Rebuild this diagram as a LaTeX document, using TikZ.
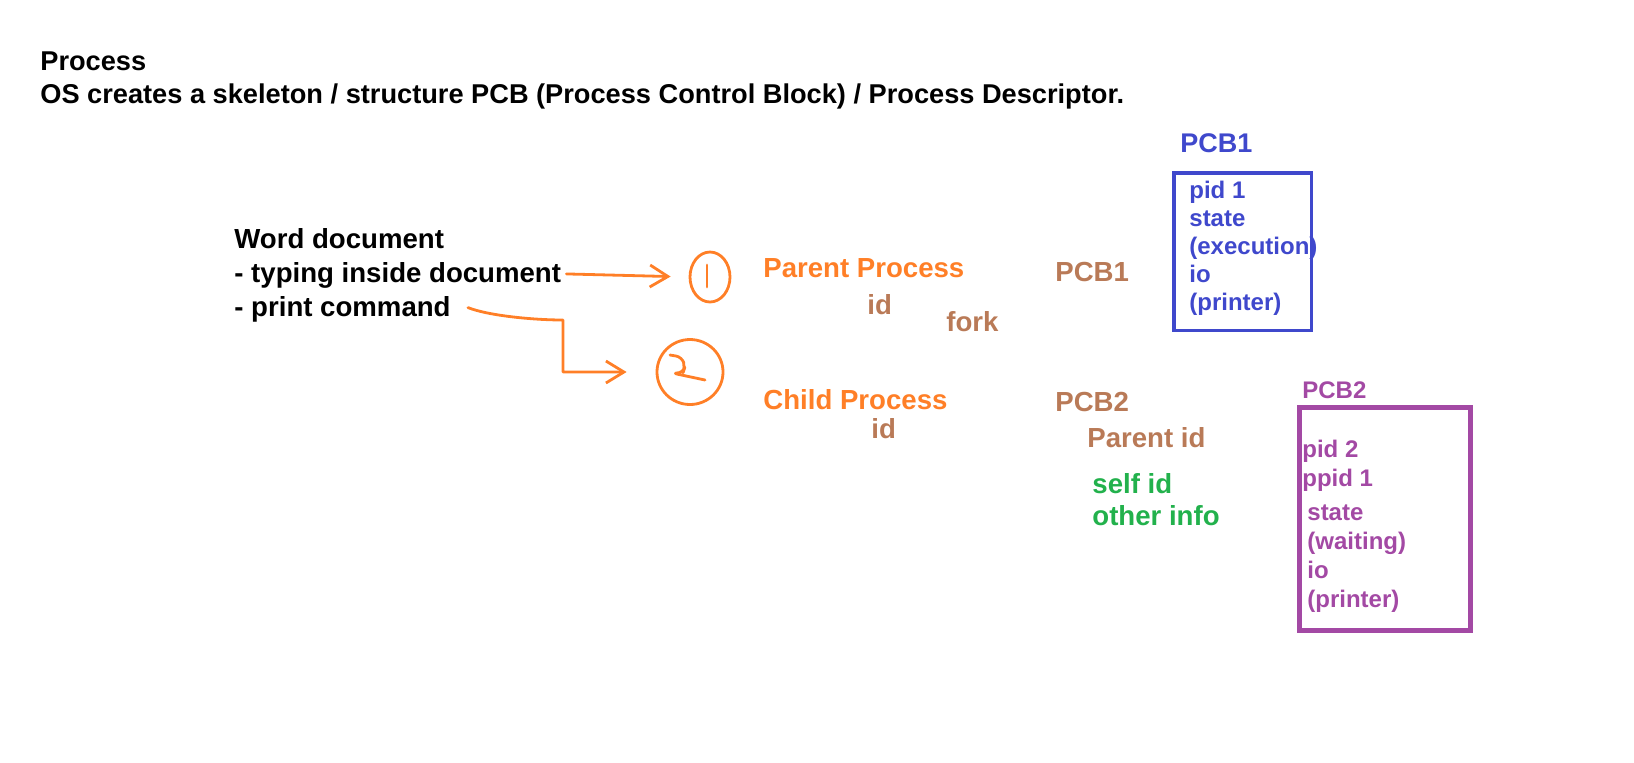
\documentclass[tikz,border=0pt]{standalone}
\usepackage{fontspec}
\setmainfont{Liberation Sans}
\usetikzlibrary{arrows.meta, positioning, shapes.geometric}
\definecolor{paintorange}{RGB}{255, 127, 39}
\definecolor{paintbrown}{RGB}{185, 122, 87}
\definecolor{paintgreen}{RGB}{34, 177, 76}
\definecolor{paintblue}{RGB}{63, 72, 204}
\definecolor{paintpurple}{RGB}{163, 73, 164}

\begin{document}
\begin{tikzpicture}[
    x=0.5pt, y=-0.5pt,
    node distance=2.2pt,
    txt/.style={
        anchor=west, inner sep=0pt, text height=11.5pt, text depth=2.8pt,
        font=\bfseries\fontsize{13.8}{16.5}\selectfont
    },
    boxtxt/.style={
        anchor=north west, inner sep=0pt, align=left
    },
    pcbbox/.style={draw, inner sep=0pt},
    hand/.style={draw=paintorange, line width=1.4pt, line cap=round, line join=round},
    arrow/.style={hand, -{Straight Barb[length=9pt, width=11pt]}}
]
\useasboundingbox (0,0) rectangle (1634,762);

% HEADING
\node[txt, font=\bfseries\fontsize{13.6}{16}\selectfont] (heading) at (40,62) {Process};
\node[txt, font=\bfseries\fontsize{13.6}{16}\selectfont, below=1.7pt of heading.south west, anchor=north west] (intro)
    {OS creates a skeleton / structure PCB (Process Control Block) / Process Descriptor.};

% WORD DOCUMENT
\node[txt] (word) at (234,240) {Word document};
\node[txt, below=of word.south west, anchor=north west] (typing) {- typing inside document};
\node[txt, below=of typing.south west, anchor=north west] (printcmd) {- print command};

% HAND DRAWN NUMBERS
\node[hand, ellipse, minimum width=20pt, minimum height=25pt, inner sep=0pt] (one) at (710,277) {};
\draw[hand] ([shift={(-3,-12)}]one.center) -- ++(0,22);

\node[hand, ellipse, minimum width=33pt, minimum height=32.5pt, inner sep=0pt] (two) at (690,372) {};
\draw[hand, rounded corners=3pt] ([shift={(-20,-17)}]two.center) -- ++(12,2) -- ++(3,10) -- ++(-2,6) -- ++(-11,0) -- ++(33,7);

\coordinate (bend) at (563,320);

% ARROWS
\draw[arrow, shorten <=2.5pt, shorten >=9pt] (typing.east) -- (one.west);
\draw[arrow, shorten >=14.5pt] ([xshift=8.5pt]printcmd.east) .. controls +(20,8) and +(-30,0) .. (bend) |- (two.west);

% PROCESSES
\node[txt, text=paintorange] (parent) at (763,269) {Parent Process};
\node[txt, text=paintbrown] (parentid) at (867,306) {id};
\node[txt, text=paintbrown] (fork) at (946,323) {fork};
\node[txt, text=paintorange] (child) at (763,401) {Child Process};
\node[txt, text=paintbrown] (childid) at (871,430) {id};

% PCB LABELS
\node[txt, text=paintbrown] (pcbone) at (1055,273) {PCB1};
\node[txt, text=paintbrown] (pcbtwo) at (1055,403) {PCB2};
\node[txt, text=paintbrown] (parentfield) at (1087,439) {Parent id};
\node[txt, text=paintgreen] (selfid) at (1092,485) {self id};
\node[txt, text=paintgreen, below=1.2pt of selfid.south west, anchor=north west] (otherinfo) {other info};

% PCB1 BOX
\node[txt, text=paintblue, font=\bfseries\fontsize{13.5}{16}\selectfont] (pcbonetitle) at (1180,144) {PCB1};
\node[boxtxt, text=paintblue, font=\bfseries\fontsize{12}{14}\selectfont] (pcbonetext) at (1189,181)
    {pid 1\\state\\(execution)\\io\\(printer)};
\node[pcbbox, draw=paintblue, line width=1.75pt, minimum width=68.75pt, minimum height=78.75pt] (pcbonebox) at (1242.5,251.5) {};

% PCB2 BOX
\node[txt, text=paintpurple, font=\bfseries\fontsize{12}{14}\selectfont] (pcbtwotitle) at (1302,390) {PCB2};
\node[boxtxt, text=paintpurple, font=\bfseries\fontsize{12}{14.6}\selectfont] (pcbtwoids) at (1302,439.5)
    {pid 2\\ppid 1};
\node[boxtxt, text=paintpurple, font=\bfseries\fontsize{12}{14.6}\selectfont] (pcbtwoinfo) at (1307,504)
    {state\\(waiting)\\io\\(printer)};
\node[pcbbox, draw=paintpurple, line width=2.5pt, minimum width=85.5pt, minimum height=111.5pt] (pcbtwobox) at (1385,519) {};

\end{tikzpicture}
\end{document}
